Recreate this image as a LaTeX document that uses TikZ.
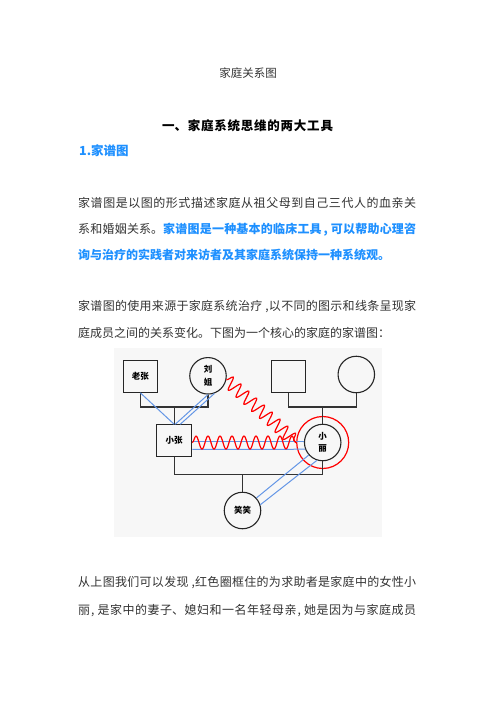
\documentclass[tikz,border=0pt]{standalone}
\usepackage{fontspec}
\setmainfont{Noto Sans CJK SC}
\usetikzlibrary{decorations.pathmorphing,calc}
\XeTeXlinebreaklocale "zh"
\XeTeXlinebreakskip=0pt plus 2pt minus 0.5pt
\definecolor{txt}{RGB}{51,51,51}
\definecolor{hblue}{RGB}{30,144,255}
\definecolor{lblue}{RGB}{100,150,230}
\definecolor{figbg}{RGB}{247,247,247}
\newcommand{\jline}[2]{\parbox{#1}{\parfillskip=0pt\parindent=0pt\relax #2}}
\tikzset{
  bodyline/.style={anchor=west, inner sep=0pt, text=txt, font=\fontsize{12}{14}\selectfont},
  sq/.style={draw=black!85, line width=1.1pt, minimum width=34pt, minimum height=31.5pt, inner sep=0pt, font=\fontsize{8.5}{12}\selectfont\bfseries},
  ci/.style={draw=black!85, line width=1.1pt, circle, minimum size=36.5pt, inner sep=0pt, align=center, font=\fontsize{8.5}{12.5}\selectfont\bfseries},
  kin/.style={draw=black!80, line width=1.2pt},
  bl/.style={draw=lblue, line width=1pt},
  wave/.style={draw=red, line width=1.2pt, decorate, decoration={snake, segment length=#1, amplitude=6.5pt}},
}
\begin{document}
\begin{tikzpicture}[x=1pt,y=-1pt]
\useasboundingbox[fill=white] (0,0) rectangle (496,702);
% texts
\node[font=\fontsize{11.5}{13}\selectfont, text=txt, inner sep=0pt] (title) at (248,73) {家庭关系图};
\node[font=\fontsize{12.5}{14}\selectfont\bfseries, text=black, inner sep=0pt] (h1) at (247.5,125.5) {\jline{171pt}{一、家庭系统思维的两大工具}};
\node[anchor=west, inner sep=0pt, font=\fontsize{12.5}{14}\selectfont\bfseries, text=hblue] (h2) at (79,150.5) {1.家谱图};
\node[bodyline] (p1a) at (78,203) {\jline{338pt}{家谱图是以图的形式描述家庭从祖父母到自己三代人的血亲关}};
\node[bodyline] (p1b) at (78,229.5) {\jline{338pt}{系和婚姻关系。\textcolor{hblue}{\bfseries 家谱图是一种基本的临床工具\kern2pt,\kern3pt可以帮助心理咨}}};
\node[bodyline] (p1c) at (78,255) {\textcolor{hblue}{\bfseries 询与治疗的实践者对来访者及其家庭系统保持一种系统观。}};
\node[bodyline] (p2a) at (78,307) {\jline{338pt}{家谱图的使用来源于家庭系统治疗\kern3pt,以不同的图示和线条呈现家}};
\node[bodyline] (p2b) at (78,332.5) {庭成员之间的关系变化。下图为一个核心的家庭的家谱图：};
\node[bodyline] (p3a) at (78,583) {\jline{338pt}{从上图我们可以发现\kern3pt,红色圈框住的为求助者是家庭中的女性小}};
\node[bodyline] (p3b) at (78,610.5) {\jline{338pt}{丽\kern1pt,\kern3pt是家中的妻子、媳妇和一名年轻母亲\kern1pt,\kern3pt她是因为与家庭成员}};
% figure
\fill[figbg] (114,348) rectangle (382,537);
\node[sq] (lz) at (140.3,376.5) {老张};
\node[ci] (lj) at (208,375.8) {刘\\姐};
\node[sq] (gf) at (288.8,376.5) {};
\node[ci] (gm) at (356.3,374.5) {};
\node[sq, minimum width=35pt] (xz) at (174.2,440.6) {小张};
\node[ci] (xl) at (322.7,442.5) {小\\丽};
\node[ci] (xx) at (242.5,510.5) {笑笑};
\node[circle, draw=red, line width=1.2pt, minimum size=52pt, inner sep=0pt] (ring) at (xl.center) {};
% kinship lines
\coordinate (m1) at (174.2,407);
\coordinate (m2) at (322.7,407);
\coordinate (m3) at (242.5,474.5);
\draw[kin] (lz.south) |- (m1) -| (lj.south);
\draw[kin] (m1) -- (xz.north);
\draw[kin] (gf.south) |- (m2) -| (gm.south);
\draw[kin] (m2) -- (xl.north);
\draw[kin] (xz.south) |- (m3) -| (xl.south);
\draw[kin] (m3) -- (xx.north);
% blue relations
\draw[bl] (lz.south) -- (xz.north);
\draw[bl] (lj.south) -- ([xshift=1pt]xz.north);
\draw[bl] (lj.-70) -- ([xshift=6pt]xz.north);
\draw[bl] ([yshift=-1pt]xz.east) -- ([yshift=-1pt]xz.east -| xl.west);
\draw[bl] ([yshift=-8.7pt]xz.east) -- (xl.201);
\draw[bl] (xx.42) -- (xl.222);
\draw[bl] (xx.18) -- (xl.252);
% red conflict waves
\draw[wave=10.5pt] (lj.-12) -- (ring.west);
\draw[wave=12pt] ([yshift=-2pt]xz.east) -- (ring.west);
\end{tikzpicture}
\end{document}
